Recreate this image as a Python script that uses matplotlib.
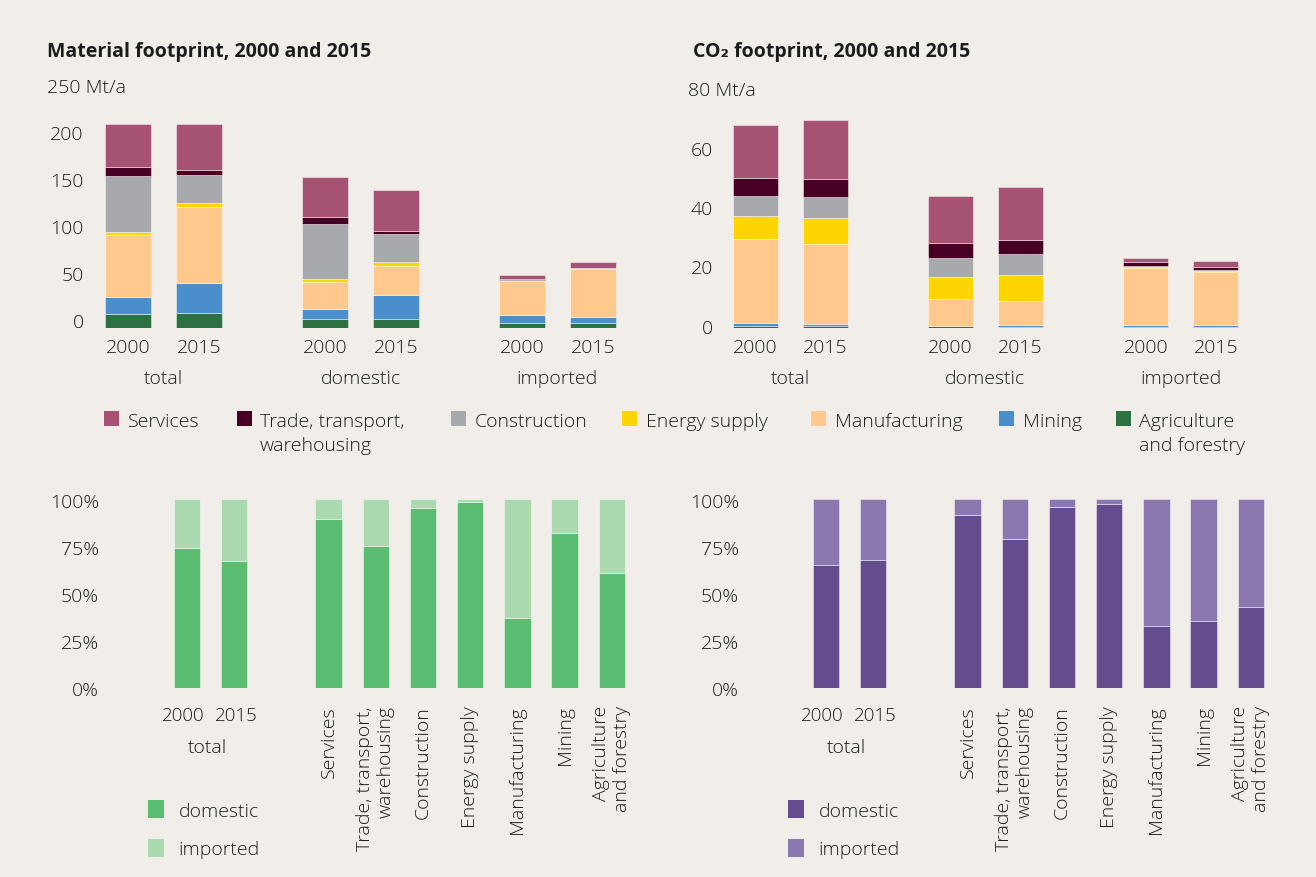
import matplotlib
matplotlib.use("Agg")
import matplotlib.pyplot as plt
from matplotlib.patches import Rectangle
import numpy as np

W, H, DPI = 1316, 877, 100
BG = "#f1eeea"
TEXT = "#1c1c1c"
EDGE = (1, 1, 1, 0.45)
FS = 14

plt.rcParams["font.family"] = ["Open Sans", "DejaVu Sans"]
plt.rcParams["font.weight"] = "light"

# sectors, top of the stack first
SECTORS = ["Services", "Trade, transport,\nwarehousing", "Construction", "Energy supply",
           "Manufacturing", "Mining", "Agriculture\nand forestry"]
SECTOR_COLORS = ["#a65272", "#470024", "#a8a9ad", "#ffd500", "#ffc88c", "#4a8fcc", "#2d7042"]

GROUPS = ["total", "domestic", "imported"]
YEARS = ["2000", "2015"]

# Material footprint, Mt/a
# order: total 2000, total 2015, domestic 2000, domestic 2015, imported 2000, imported 2015
mat_services = [46.1, 48.9, 41.9, 43.0, 4.9, 5.7]
mat_trade = [9.5, 5.0, 8.1, 3.9, 0.8, 0.3]
mat_construction = [58.9, 29.8, 57.8, 29.0, 0.5, 0.8]
mat_energy = [3.6, 4.9, 3.6, 4.6, 0.5, 0.3]
mat_manufacturing = [65.6, 80.9, 28.7, 30.5, 36.2, 51.1]
mat_mining = [18.7, 31.9, 10.3, 25.6, 8.1, 6.0]
mat_agriculture = [14.6, 15.6, 9.9, 9.9, 5.7, 5.7]

# CO2 footprint, Mt/a, same order
co2_services = [17.8, 19.7, 15.7, 18.0, 1.6, 1.9]
co2_trade = [6.1, 6.0, 5.0, 4.7, 1.3, 1.1]
co2_construction = [6.6, 7.0, 6.3, 6.9, 0.3, 0.3]
co2_energy = [7.9, 8.7, 7.5, 8.8, 0.2, 0.2]
co2_manufacturing = [28.1, 26.9, 9.0, 8.2, 19.4, 18.1]
co2_mining = [1.0, 0.8, 0.2, 0.4, 0.4, 0.4]
co2_agriculture = [0.6, 0.5, 0.4, 0.3, 0.3, 0.3]

# domestic share, %
mat_dom_total = [74.1, 67.5]
mat_dom_sector = [89.7, 75.3, 95.5, 98.7, 37.3, 81.9, 61.0]
co2_dom_total = [65.0, 67.7]
co2_dom_sector = [91.8, 78.9, 96.1, 97.7, 32.7, 35.3, 42.8]

GREEN = ("#5bbd72", "#acdab0")
PURPLE = ("#634d8f", "#8b78b0")

fig = plt.figure(figsize=(W / DPI, H / DPI), dpi=DPI, facecolor=BG)


def px_axes(left, top, right, bottom):
    ax = fig.add_axes([left / W, 1 - bottom / H, (right - left) / W, (bottom - top) / H])
    ax.set_facecolor("none")
    ax.axis("off")
    return ax


def note(ax, text, x, y, dx, dy, xcoords="data", **kw):
    kw.setdefault("fontsize", FS)
    kw.setdefault("color", TEXT)
    ax.annotate(text, xy=(x, y), xycoords=(xcoords, "data"), xytext=(dx, dy),
                textcoords="offset pixels", annotation_clip=False, **kw)


def fig_text(x, y, s, **kw):
    kw.setdefault("fontsize", FS)
    kw.setdefault("color", TEXT)
    fig.text(x / W, 1 - y / H, s, **kw)


def fig_square(x, y, w, h, color):
    fig.patches.append(Rectangle((x / W, 1 - (y + h) / H), w / W, h / H,
                                 transform=fig.transFigure, color=color, lw=0))


def stacked_panel(box, origin, step, bar_w, offset, stacks, ymax, ystep, unit_dx,
                  tick_dx, tick_dy, year_dy, group_dy):
    left, top, right, bottom = box
    ax = px_axes(left, top, right, bottom)
    ax.set_xlim((left - origin) / step, (right - origin) / step)
    ax.set_ylim(0, ymax)
    xs = np.array([g + s * offset / step for g in range(len(GROUPS)) for s in (-1, 1)])
    base = np.zeros(len(xs))
    for vals, color in zip(stacks[::-1], SECTOR_COLORS[::-1]):
        vals = np.asarray(vals, dtype=float)
        ax.bar(xs, vals, width=bar_w / step, bottom=base, color=color,
               edgecolor=EDGE, linewidth=0.7)
        base += vals
    for v in range(0, ymax, ystep):
        note(ax, str(v), 0, v, tick_dx, tick_dy, xcoords="axes fraction",
             ha="right", va="baseline")
    note(ax, f"{ymax} Mt/a", 0, ymax, unit_dx, tick_dy, xcoords="axes fraction",
         ha="left", va="baseline")
    for x, yr in zip(xs, YEARS * len(GROUPS)):
        note(ax, yr, x, 0, 0, year_dy, ha="center", va="baseline")
    for g, name in enumerate(GROUPS):
        note(ax, name, g, 0, 0, group_dy, ha="center", va="baseline")
    return ax


def share_panel(left, origin, dom_total, dom_sector, colors, tick_right):
    step = 47.2
    right = left + 545
    ax = px_axes(left, 499.3, right, 688)
    ax.set_xlim((left - origin) / step, (right - origin) / step)
    ax.set_ylim(0, 100)
    xs_total = np.arange(len(YEARS))
    xs_sector = np.arange(len(SECTORS)) + 3
    xs = np.concatenate([xs_total, xs_sector])
    dom = np.array(dom_total + dom_sector, dtype=float)
    imp = 100 - dom
    w = 26.5 / step
    ax.bar(xs, dom, width=w, color=colors[0], edgecolor=EDGE, linewidth=0.7)
    ax.bar(xs, imp, width=w, bottom=dom, color=colors[1], edgecolor=EDGE, linewidth=0.7)
    for v in range(0, 101, 25):
        note(ax, f"{v}%", 0, v, tick_right - left, -8.5, xcoords="axes fraction",
             ha="right", va="baseline")
    for x, yr, nudge in zip(xs_total, YEARS, (-4, 2)):
        note(ax, yr, x, 0, nudge, -32.7, ha="center", va="baseline", fontsize=13.5)
    note(ax, "total", xs_total.mean(), 0, -3, -65.3, ha="center", va="baseline")
    for x, name in zip(xs_sector, SECTORS):
        note(ax, name, x, 0, 0, -18, ha="center", va="top", rotation=90,
             multialignment="right")
    return ax


# top row: stacked sector footprints
stacked_panel((90, 93, 640, 328), 163.5, 197, 46, 35.5,
              [mat_services, mat_trade, mat_construction, mat_energy,
               mat_manufacturing, mat_mining, mat_agriculture],
              250, 50, 46.7 - 90, 83.5 - 90, 0, -25, -56.3)
stacked_panel((725, 89.5, 1280, 327.5), 790, 195.5, 45, 35,
              [co2_services, co2_trade, co2_construction, co2_energy,
               co2_manufacturing, co2_mining, co2_agriculture],
              80, 20, 688 - 725, 713 - 725, -6.5, -25.8, -56.5)

fig_text(47.3, 57.3, "Material footprint, 2000 and 2015", fontweight="bold", va="baseline")
fig_text(692.7, 57.3, "CO\u2082 footprint, 2000 and 2015", fontweight="bold", va="baseline")

# sector legend
legend_sq = [103.8, 237, 451, 622, 811, 999, 1116.4]
legend_tx = [127.6, 260, 474.7, 645.6, 834.7, 1022.6, 1139.4]
for sx, tx, name, color in zip(legend_sq, legend_tx, SECTORS, SECTOR_COLORS):
    fig_square(sx, 410.7, 15, 15, color)
    for i, line in enumerate(name.split("\n")):
        fig_text(tx, 427.3 + i * 23.4, line, va="baseline")

# bottom row: domestic vs imported shares
share_panel(105, 187, mat_dom_total, mat_dom_sector, GREEN, 99)
share_panel(744, 826, co2_dom_total, co2_dom_sector, PURPLE, 739)

for sx, colors in ((148, GREEN), (788, PURPLE)):
    for i, (label, color) in enumerate(zip(["domestic", "imported"], colors)):
        fig_square(sx, 800 + i * 39, 16, 17.7, color)
        fig_text(sx + 30.4, 816.7 + i * 38.3, label, va="baseline")

fig.savefig("out.png", dpi=DPI, facecolor=BG)
